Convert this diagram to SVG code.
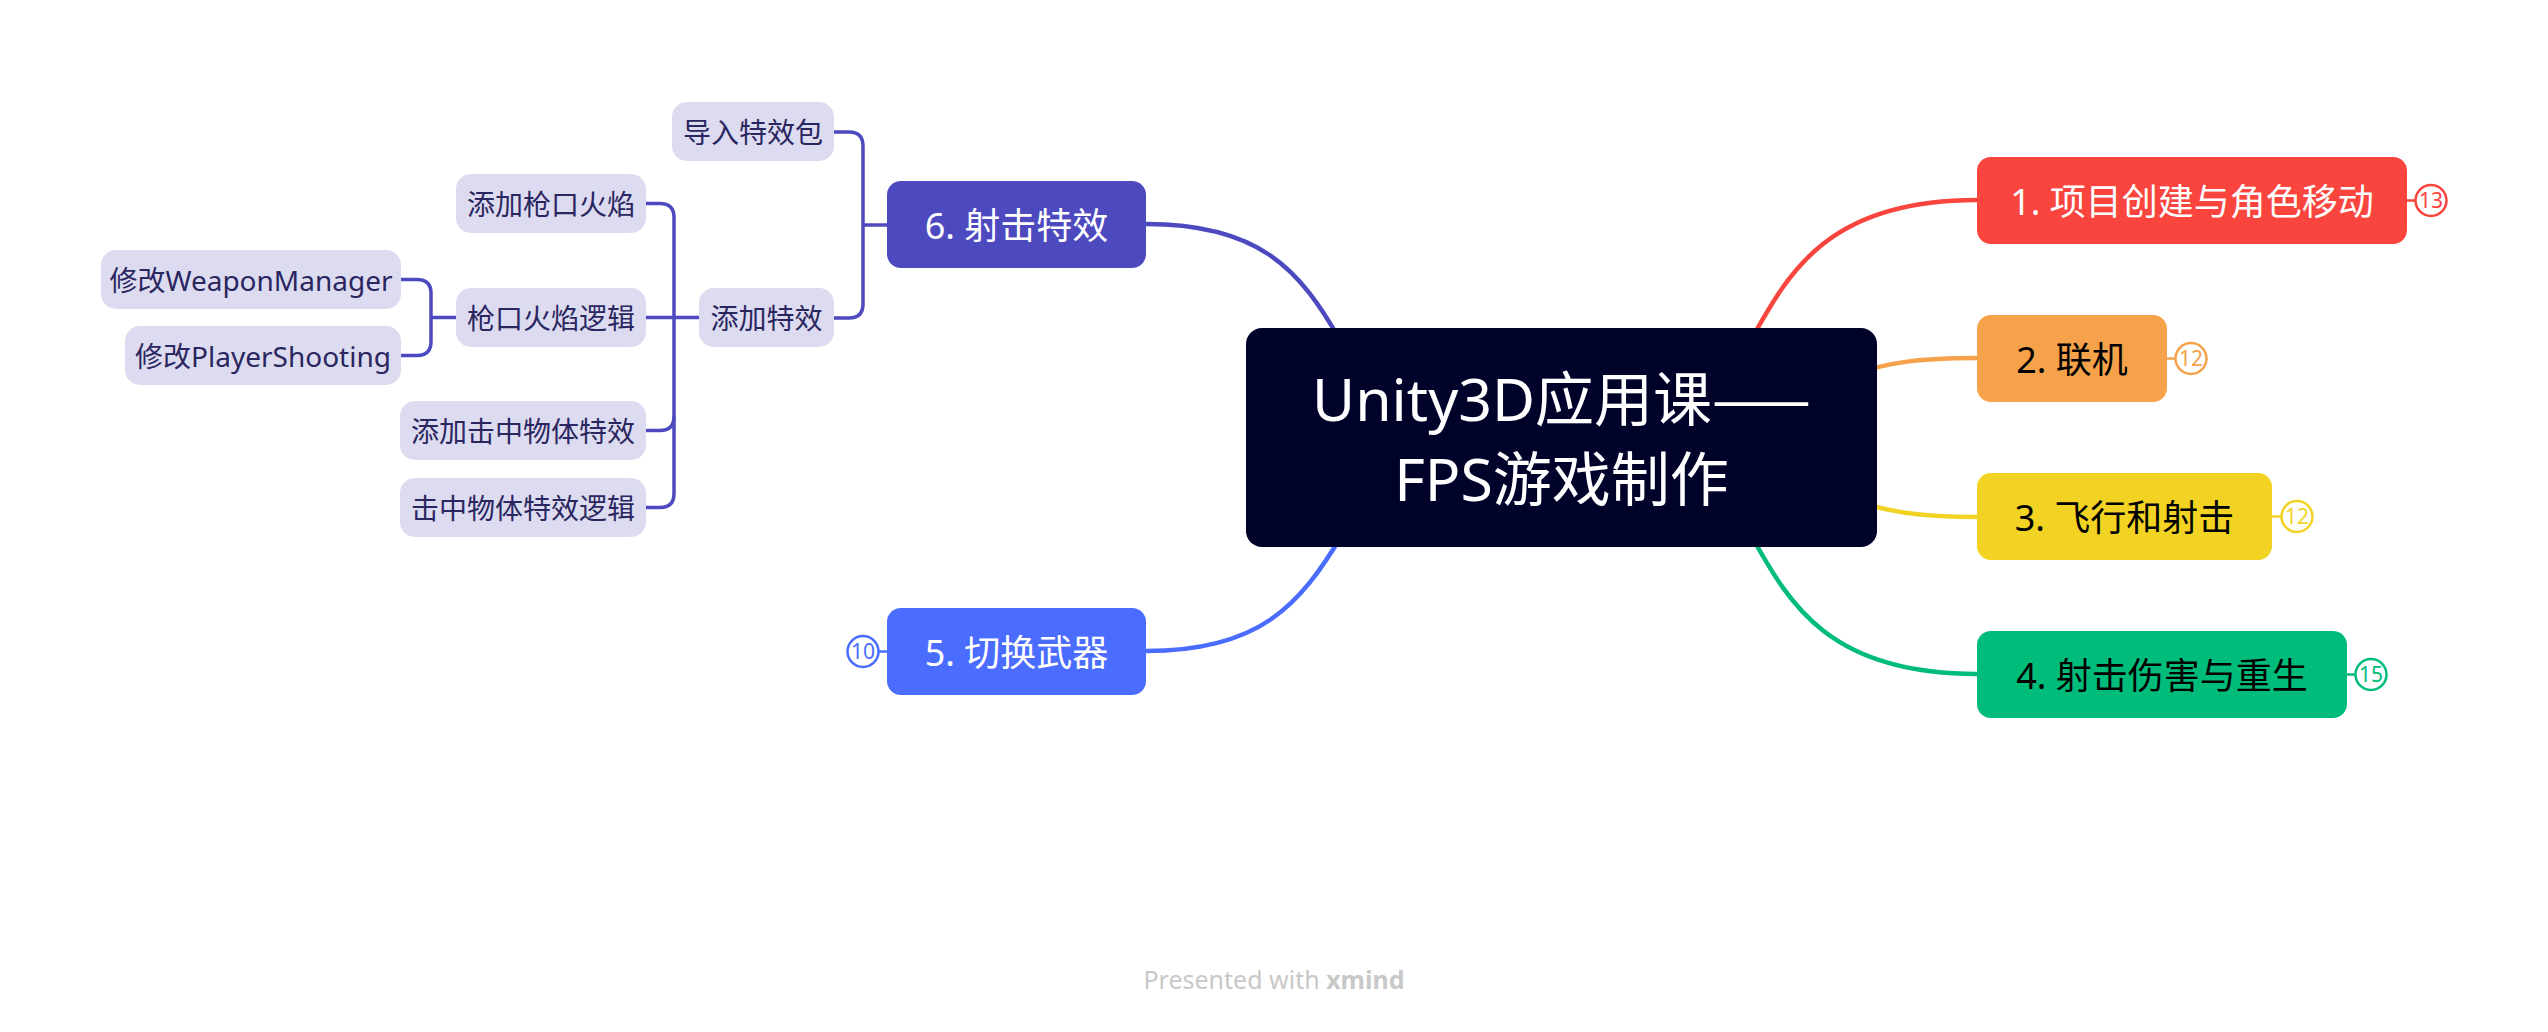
<svg xmlns="http://www.w3.org/2000/svg" width="2548" height="1032" viewBox="0 0 2548 1032">
<style>
text { font-family: "Noto Sans", "Noto Sans CJK SC", sans-serif; }
.main { font-size: 36px; text-anchor: middle; }
.sub rect { fill: #DCDBF0; }
.sub text { font-size: 28px; fill: #2A2660; text-anchor: middle; }
.link { fill: none; stroke-width: 4.5; stroke-linecap: butt; }
.tree { fill: none; stroke: #4D4AC0; stroke-width: 3.5; }
.badge circle { fill: #fff; stroke-width: 2.5; }
.badge line { stroke-width: 2.5; }
.badge text { font-size: 21px; text-anchor: middle; }
</style>
<rect width="2548" height="1032" fill="#ffffff"/>

<g id="connectors">
  <path class="link" stroke="#F9453D" d="M1752,338 C1790,270 1830,200 1977,200"/>
  <path class="link" stroke="#F5A24B" d="M1850,375 C1890,362 1920,358 1977,358"/>
  <path class="link" stroke="#F2D323" d="M1850,500 C1890,512 1920,517 1977,517"/>
  <path class="link" stroke="#00BC7B" d="M1752,537 C1790,605 1830,674 1977,674"/>
  <path class="link" stroke="#4D4AC0" d="M1340,340 C1300,270 1260,224 1146,224"/>
  <path class="link" stroke="#4A6CFF" d="M1342,535 C1300,605 1260,651 1146,651"/>
  <path class="tree" d="M834,132 H849 Q863,132 863,146 V304 Q863,318 849,318 H834"/>
  <path class="tree" d="M863,225 H887"/>
  <path class="tree" d="M646,203.5 H660 Q674,203.5 674,217.5 V493.5 Q674,507.5 660,507.5 H646"/>
  <path class="tree" d="M646,317.5 H699"/>
  <path class="tree" d="M674,416.5 Q674,430.5 660,430.5 H646"/>
  <path class="tree" d="M401,279.5 H417 Q431,279.5 431,293.5 V341.5 Q431,355.5 417,355.5 H401"/>
  <path class="tree" d="M431,317.5 H456"/>
</g>

<g id="central">
  <rect x="1246" y="328" width="631" height="219" rx="16" fill="#000229"/>
  <text x="1561.5" y="421" font-size="59" fill="#ffffff" text-anchor="middle">Unity3D应用课<tspan font-family="Noto Sans CJK SC, sans-serif">——</tspan></text>
  <text x="1561.5" y="501" font-size="59" fill="#ffffff" text-anchor="middle">FPS游戏制作</text>
</g>

<g id="topic1">
  <rect x="1977" y="157" width="430" height="87" rx="14" fill="#F9453D"/>
  <text class="main" x="2192" y="214.5" fill="#ffffff">1. 项目创建与角色移动</text>
  <g class="badge"><line x1="2407" y1="200.5" x2="2415" y2="200.5" stroke="#F9453D"/><circle cx="2431" cy="200.5" r="15.5" stroke="#F9453D"/><text x="2431" y="208" fill="#F9453D">13</text></g>
</g>

<g id="topic2">
  <rect x="1977" y="315" width="190" height="87" rx="14" fill="#F5A24B"/>
  <text class="main" x="2072" y="372.5" fill="#000000">2. 联机</text>
  <g class="badge"><line x1="2167" y1="358.5" x2="2175" y2="358.5" stroke="#F5A24B"/><circle cx="2191" cy="358.5" r="15.5" stroke="#F5A24B"/><text x="2191" y="366" fill="#F5A24B">12</text></g>
</g>

<g id="topic3">
  <rect x="1977" y="473" width="295" height="87" rx="14" fill="#F2D323"/>
  <text class="main" x="2124.5" y="530.5" fill="#000000">3. 飞行和射击</text>
  <g class="badge"><line x1="2272" y1="516.5" x2="2281" y2="516.5" stroke="#F2D323"/><circle cx="2297" cy="516.5" r="15.5" stroke="#F2D323"/><text x="2297" y="524" fill="#F2D323">12</text></g>
</g>

<g id="topic4">
  <rect x="1977" y="631" width="370" height="87" rx="14" fill="#00BC7B"/>
  <text class="main" x="2162" y="688.5" fill="#000000">4. 射击伤害与重生</text>
  <g class="badge"><line x1="2347" y1="674.5" x2="2355" y2="674.5" stroke="#00BC7B"/><circle cx="2371" cy="674.5" r="15.5" stroke="#00BC7B"/><text x="2371" y="682" fill="#00BC7B">15</text></g>
</g>

<g id="topic5">
  <rect x="887" y="608" width="259" height="87" rx="14" fill="#4A6CFF"/>
  <text class="main" x="1016.5" y="665.5" fill="#ffffff">5. 切换武器</text>
  <g class="badge"><line x1="879" y1="651.5" x2="887" y2="651.5" stroke="#4A6CFF"/><circle cx="863" cy="651.5" r="15.5" stroke="#4A6CFF"/><text x="863" y="659" fill="#4A6CFF">10</text></g>
</g>

<g id="topic6">
  <rect x="887" y="181" width="259" height="87" rx="14" fill="#4D4AC0"/>
  <text class="main" x="1016.5" y="238.5" fill="#ffffff">6. 射击特效</text>
</g>

<g id="sub-import" class="sub">
  <rect x="672" y="102" width="162" height="59" rx="15"/>
  <text x="753" y="142.5">导入特效包</text>
</g>
<g id="sub-addfx" class="sub">
  <rect x="699" y="288" width="135" height="59" rx="15"/>
  <text x="766.5" y="328.5">添加特效</text>
</g>
<g id="sub-muzzle" class="sub">
  <rect x="456" y="174" width="190" height="59" rx="15"/>
  <text x="551" y="214.5">添加枪口火焰</text>
</g>
<g id="sub-muzzlelogic" class="sub">
  <rect x="456" y="288" width="190" height="59" rx="15"/>
  <text x="551" y="328.5">枪口火焰逻辑</text>
</g>
<g id="sub-weaponmgr" class="sub">
  <rect x="101" y="250" width="300" height="59" rx="15"/>
  <text x="251" y="290.5">修改WeaponManager</text>
</g>
<g id="sub-playershoot" class="sub">
  <rect x="125" y="326" width="276" height="59" rx="15"/>
  <text x="263" y="366.5">修改PlayerShooting</text>
</g>
<g id="sub-hitfx" class="sub">
  <rect x="400" y="401" width="246" height="59" rx="15"/>
  <text x="523" y="441.5">添加击中物体特效</text>
</g>
<g id="sub-hitlogic" class="sub">
  <rect x="400" y="478" width="246" height="59" rx="15"/>
  <text x="523" y="518.5">击中物体特效逻辑</text>
</g>

<text x="1274" y="989" font-size="25" fill="#C8C8C8" text-anchor="middle">Presented with <tspan font-weight="bold">xmind</tspan></text>
</svg>
